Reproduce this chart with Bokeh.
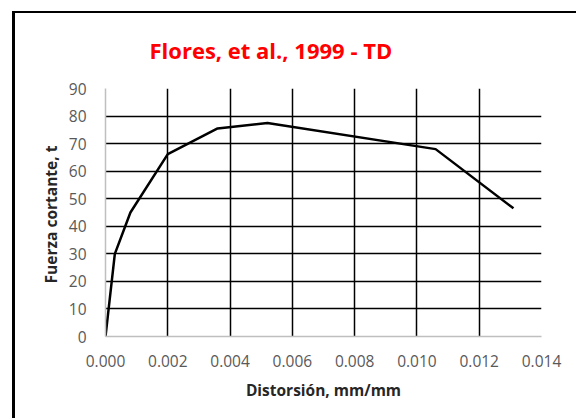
from bokeh.plotting import figure
from bokeh.models import FixedTicker, Range1d, CustomJSTickFormatter
from bokeh.embed import file_html
from bokeh.resources import INLINE

distortion = [0.0, 0.0003, 0.0008, 0.0020, 0.0036, 0.0052, 0.0106, 0.0131]
shear = [0.0, 30.0, 45.0, 66.2, 75.5, 77.5, 68.0, 46.5]
x_ticks = [0.000, 0.002, 0.004, 0.006, 0.008, 0.010, 0.012, 0.014]
y_ticks = [0, 10, 20, 30, 40, 50, 60, 70, 80, 90]

FONT = "Open Sans"

p = figure(width=564, height=407, output_backend="svg", toolbar_location=None,
           x_range=Range1d(0, 0.014), y_range=Range1d(0, 90),
           min_border_left=90, min_border_right=38, min_border_top=75, min_border_bottom=84)
p.margin = (11, 0, 0, 12)
p.styles = {"border-left": "3px solid black", "border-top": "2px solid black"}

p.line(distortion, shear, line_color="black", line_width=2.5)

p.title.text = "Flores, et al., 1999 - TD"
p.title.text_color = "#ff0000"
p.title.text_font = FONT
p.title.text_font_size = "22px"
p.title.text_font_style = "bold"
p.title.align = "left"
p.title.offset = 44
p.title.standoff = 43
p.title.vertical_align = "top"
p.title.text_line_height = 0.6

p.outline_line_color = None

p.xaxis.ticker = FixedTicker(ticks=x_ticks)
p.yaxis.ticker = FixedTicker(ticks=y_ticks)
p.xgrid.ticker = FixedTicker(ticks=x_ticks[1:])
p.ygrid.ticker = FixedTicker(ticks=y_ticks[1:])
p.xaxis.formatter = CustomJSTickFormatter(code="return tick.toFixed(3);")

for g in (p.xgrid, p.ygrid):
    g.grid_line_color = "black"
    g.grid_line_width = 1.5
    g.grid_line_alpha = 1.0

for ax in (p.xaxis, p.yaxis):
    ax.axis_line_color = "#bfbfbf"
    ax.axis_line_width = 1.5
    ax.major_tick_line_color = None
    ax.minor_tick_line_color = None
    ax.major_label_text_font = FONT
    ax.major_label_text_font_size = "15.5px"
    ax.major_label_text_color = "#595959"
    ax.axis_label_text_font = FONT
    ax.axis_label_text_font_size = "15.5px"
    ax.axis_label_text_font_style = "bold"
    ax.axis_label_text_color = "#262626"

p.xaxis.axis_label = "Distorsión, mm/mm"
p.yaxis.axis_label = "Fuerza cortante,  t"
p.xaxis.major_label_standoff = 12
p.yaxis.major_label_standoff = 13
p.xaxis.axis_label_standoff = 9
p.yaxis.axis_label_standoff = 4

open("out.html", "w").write(file_html(p, INLINE))
